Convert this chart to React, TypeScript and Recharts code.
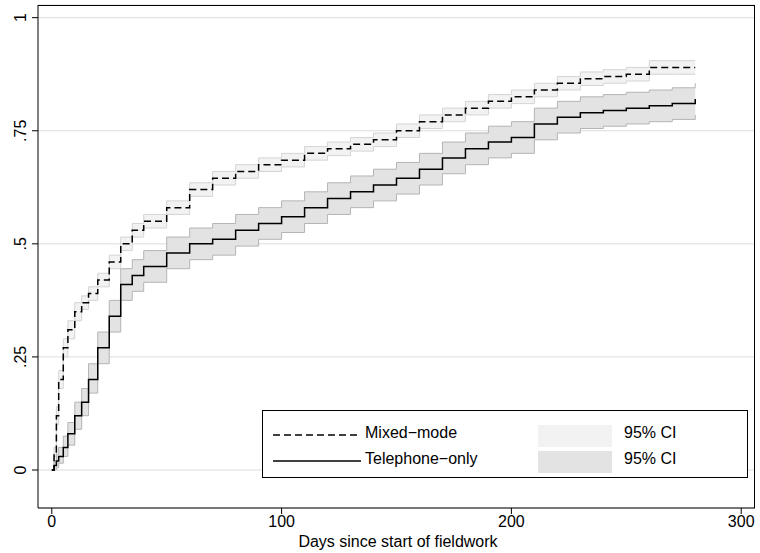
import React from "react"
import { ComposedChart, Line, Area, XAxis, YAxis, CartesianGrid } from "recharts"

const days = [0, 1, 2, 3, 5, 7, 10, 13, 16, 20, 25, 30, 35, 40, 50, 60, 70, 80, 90, 100, 110, 120, 130, 140, 150, 160, 170, 180, 190, 200, 210, 220, 230, 240, 250, 260, 270, 280]
const mixed = [0, 0.04, 0.12, 0.2, 0.27, 0.31, 0.35, 0.37, 0.39, 0.42, 0.46, 0.5, 0.53, 0.55, 0.58, 0.62, 0.645, 0.66, 0.675, 0.685, 0.7, 0.71, 0.72, 0.73, 0.75, 0.77, 0.785, 0.8, 0.815, 0.825, 0.84, 0.855, 0.865, 0.87, 0.875, 0.89, 0.89, 0.89]
const mixedLo = [0, 0.03, 0.1, 0.18, 0.25, 0.29, 0.33, 0.355, 0.375, 0.405, 0.445, 0.485, 0.515, 0.535, 0.565, 0.605, 0.63, 0.645, 0.66, 0.67, 0.685, 0.695, 0.705, 0.715, 0.735, 0.755, 0.77, 0.785, 0.8, 0.81, 0.825, 0.84, 0.85, 0.855, 0.86, 0.875, 0.875, 0.875]
const mixedHi = [0, 0.05, 0.14, 0.22, 0.29, 0.33, 0.37, 0.385, 0.405, 0.435, 0.475, 0.515, 0.545, 0.565, 0.595, 0.635, 0.66, 0.675, 0.69, 0.7, 0.715, 0.725, 0.735, 0.745, 0.765, 0.785, 0.8, 0.815, 0.83, 0.84, 0.855, 0.87, 0.88, 0.885, 0.89, 0.905, 0.905, 0.905]
const phone = [0, 0.01, 0.02, 0.03, 0.05, 0.08, 0.12, 0.15, 0.2, 0.27, 0.34, 0.41, 0.43, 0.45, 0.48, 0.5, 0.51, 0.53, 0.545, 0.56, 0.58, 0.6, 0.615, 0.63, 0.645, 0.665, 0.69, 0.71, 0.725, 0.735, 0.765, 0.78, 0.79, 0.795, 0.8, 0.805, 0.81, 0.82]
const phoneLo = [0, 0, 0.005, 0.015, 0.03, 0.055, 0.09, 0.12, 0.17, 0.235, 0.305, 0.375, 0.395, 0.415, 0.445, 0.465, 0.475, 0.495, 0.51, 0.525, 0.545, 0.565, 0.58, 0.595, 0.61, 0.63, 0.655, 0.675, 0.69, 0.7, 0.73, 0.745, 0.755, 0.76, 0.765, 0.77, 0.775, 0.785]
const phoneHi = [0, 0.02, 0.035, 0.05, 0.075, 0.105, 0.15, 0.18, 0.235, 0.305, 0.375, 0.445, 0.465, 0.485, 0.515, 0.535, 0.545, 0.565, 0.58, 0.595, 0.615, 0.635, 0.65, 0.665, 0.68, 0.7, 0.725, 0.745, 0.76, 0.77, 0.8, 0.815, 0.825, 0.83, 0.835, 0.84, 0.845, 0.855]
const xTicks = [0, 100, 200, 300]
const yTicks = [0, 0.25, 0.5, 0.75, 1]
const yLabels = ["0", ".25", ".5", ".75", "1"]

const data = days.map((d, i) => ({
  day: d,
  mixed: mixed[i],
  phone: phone[i],
  mixedCI: [mixedLo[i], mixedHi[i]],
  phoneCI: [phoneLo[i], phoneHi[i]],
}))

const font = "Liberation Sans, Arial, sans-serif"

const YTick = (props: any) => {
  const { x, y, payload } = props
  const i = yTicks.indexOf(payload.value)
  return (
    <text x={x - 4} y={y} transform={`rotate(-90 ${x - 4} ${y})`} textAnchor="middle" fontSize={16} fill="#000" fontFamily={font}>
      {yLabels[i]}
    </text>
  )
}

export default function App() {
  return (
    <div style={{ position: "absolute", left: 0, top: 0, width: 760, height: 553, background: "#fff", fontFamily: font }}>
      <ComposedChart width={760} height={553} data={data} margin={{ top: 5, right: 5, bottom: 15, left: 0 }}>
        <CartesianGrid horizontal vertical={false} stroke="#dcdcdc" />
        <XAxis dataKey="day" type="number" domain={[-6, 306]} ticks={xTicks} allowDataOverflow height={30}
          tick={{ fill: "#000", fontSize: 16, fontFamily: font }} tickSize={6} stroke="#000" />
        <YAxis type="number" domain={[-0.084, 1.028]} ticks={yTicks} allowDataOverflow width={38} tick={<YTick />} tickSize={6} stroke="#000" />
        <Area dataKey="mixedCI" type="stepAfter" fill="#f2f2f2" fillOpacity={1} stroke="#d4d4d4" strokeWidth={1} isAnimationActive={false} />
        <Area dataKey="phoneCI" type="stepAfter" fill="#e3e3e3" fillOpacity={1} stroke="#b4b4b4" strokeWidth={1} isAnimationActive={false} />
        <Line dataKey="mixed" type="stepAfter" stroke="#000" strokeWidth={1.5} strokeDasharray="7 4" dot={false} isAnimationActive={false} />
        <Line dataKey="phone" type="stepAfter" stroke="#000" strokeWidth={1.5} dot={false} isAnimationActive={false} />
      </ComposedChart>
      <div style={{ position: "absolute", left: 0, width: 760, top: 533, textAlign: "center", fontSize: 16, paddingLeft: 36, boxSizing: "border-box" }}>Days since start of fieldwork</div>
      <div style={{ position: "absolute", left: 38, top: 5, width: 717, height: 503, border: "1px solid #000", boxSizing: "border-box", pointerEvents: "none", borderLeft: "none", borderBottom: "none" }} />
      <div style={{ position: "absolute", left: 262, top: 410, width: 486, height: 68, border: "1px solid #000", background: "#fff", boxSizing: "border-box", fontSize: 16 }}>
        <svg width={90} height={68} style={{ position: "absolute", left: 10, top: 0 }}>
          <line x1={0} y1={24} x2={88} y2={24} stroke="#000" strokeWidth={1.5} strokeDasharray="7 4" />
          <line x1={0} y1={50} x2={88} y2={50} stroke="#000" strokeWidth={1.5} />
        </svg>
        <div style={{ position: "absolute", left: 102, top: 13 }}>Mixed−mode</div>
        <div style={{ position: "absolute", left: 102, top: 39 }}>Telephone−only</div>
        <div style={{ position: "absolute", left: 275, top: 14, width: 74, height: 22, background: "#f2f2f2" }} />
        <div style={{ position: "absolute", left: 275, top: 40, width: 74, height: 22, background: "#e3e3e3" }} />
        <div style={{ position: "absolute", left: 361, top: 13 }}>95% CI</div>
        <div style={{ position: "absolute", left: 361, top: 39 }}>95% CI</div>
      </div>
    </div>
  )
}
